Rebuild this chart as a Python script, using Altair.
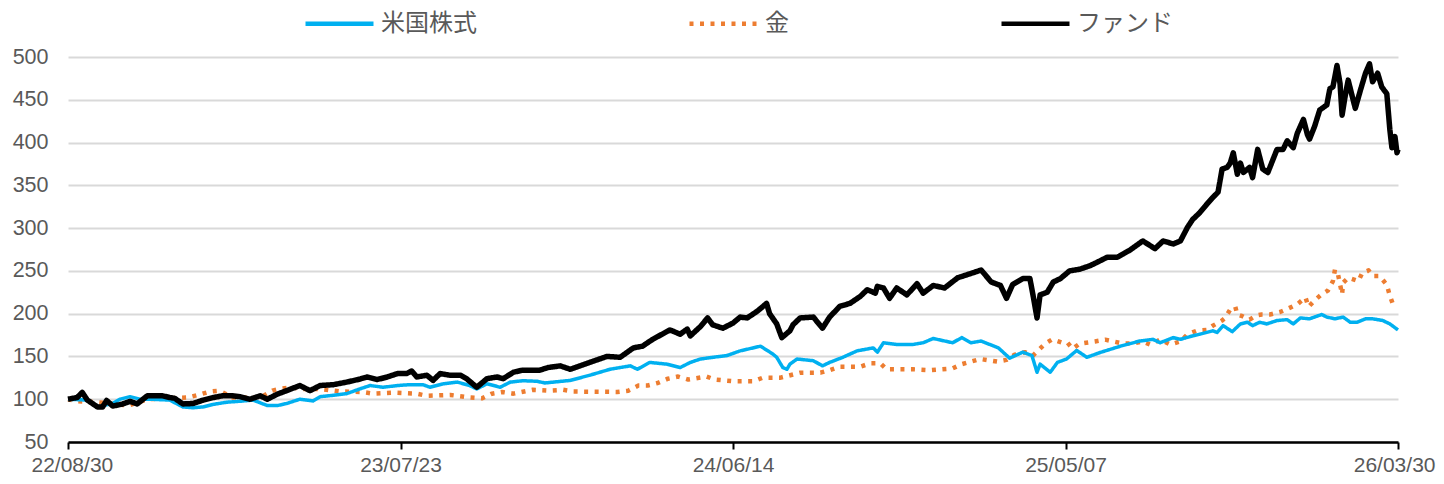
import altair as alt
import pandas as pd

# ---------------- data ----------------
series_names = ["米国株式", "金", "ファンド"]
start_date = "2022-08-30"
end_date = "2026-03-30"
x_tick_dates = ["2022-08-30", "2023-07-23", "2024-06-14", "2025-05-07", "2026-03-30"]
y_tick_values = [50, 100, 150, 200, 250, 300, 350, 400, 450, 500]

# days elapsed since start_date, and index values (start = 100)
us_days = [0, 19, 29, 44, 51, 61, 71, 81, 100, 113, 123, 133, 143, 156, 169, 182, 196, 206, 215, 228,
           241, 248, 261, 274, 287, 297, 310, 324, 336, 349, 356, 369, 383, 395, 402, 412, 425, 435, 447, 461,
           469, 494, 513, 523, 533, 553, 560, 572, 589, 602, 612, 622, 638, 648, 661, 681, 693, 697, 703, 707,
           710, 717, 733, 742, 749, 762, 776, 792, 796, 802, 815, 831, 841, 851, 870, 879, 888, 898, 915, 926,
           939, 948, 953, 956, 966, 973, 982, 992, 1002, 1015, 1035, 1054, 1067, 1074, 1087, 1094, 1106, 1113,
           1126, 1130, 1136, 1145, 1153, 1160, 1165, 1172, 1179, 1189, 1199, 1205, 1212, 1221, 1233, 1238, 1246,
           1254, 1261, 1268, 1276, 1283, 1293, 1300, 1308]
us_values = [100, 99, 91, 95, 100, 103, 100, 100, 99, 91, 90, 91, 94, 96.5, 97.6, 99, 92.6, 92.6, 95, 100,
             98, 103, 104.6, 106.5, 112, 116, 114, 116, 117, 117, 114, 118, 120, 116, 112, 118, 114, 120, 121.6, 121,
             119, 122, 128, 131.5, 135, 139, 135, 143, 141, 137, 143, 147, 149.6, 151, 156.5, 162, 153, 149, 137, 135,
             141, 147, 145, 139, 143, 149, 156.5, 160, 155, 166, 164, 164, 166, 171, 166, 172, 166, 168, 160, 148,
             155, 151, 131.5, 141, 131.5, 143, 147, 157, 149, 154.6, 162, 168, 170, 166, 172, 170, 174, 176,
             180, 178, 186, 179, 188, 190, 186, 190, 188, 192, 193, 188, 195, 194, 199, 196, 194,
             196, 190, 190, 194, 194, 192, 188, 181]

gold_days = [0, 10, 29, 59, 79, 118, 128, 140, 149, 162, 189, 201, 208, 221, 228, 248, 268, 289, 300, 322,
             343, 353, 376, 395, 407, 417, 427, 438, 457, 472, 487, 497, 540, 551, 561, 570, 580, 590, 600, 610,
             628, 636, 654, 674, 683, 690, 700, 720, 740, 749, 759, 779, 789, 799, 805, 831, 848, 870, 879, 897,
             914, 923, 931, 941, 949, 961, 968, 978, 983, 988, 995, 1010, 1020, 1028, 1038, 1047, 1057, 1064, 1074,
             1084, 1094, 1101, 1110, 1120, 1126, 1135, 1138, 1143, 1148, 1150, 1155, 1162, 1169, 1174, 1182, 1192,
             1200, 1209, 1217, 1220, 1226, 1233, 1239, 1244, 1246, 1249, 1253, 1254, 1259, 1264, 1269, 1273, 1279,
             1283, 1290, 1297, 1300, 1303, 1307]
gold_values = [100, 97.6, 96.5, 92.6, 100, 102, 105, 109, 110, 102, 102, 110, 112, 114, 112, 112, 109, 108.5, 106.5, 107.7,
               106.5, 104, 105, 102, 101, 106.5, 108.5, 106.5, 111, 110, 111, 109, 108.5, 110, 116, 116, 119, 124, 126.5, 123,
               126.5, 123, 121, 121, 125, 125, 125, 131, 131, 134, 138, 138, 142, 142, 135, 135, 134, 136, 141, 147,
               144, 146, 152, 155, 151, 165, 170, 166, 166, 159, 165, 167.5, 169.6, 167.5, 165, 165, 167.5, 164, 169.6,
               164, 167.5, 176, 180, 181, 186, 192, 195, 205, 208, 199, 197, 193, 198, 199, 199, 202,
               206, 211, 219, 208, 215.5, 222.7, 227, 238, 251.5, 246, 222.7, 236, 242, 240, 238, 248, 250.6,
               244, 244, 233.6, 221, 211, 208]

fund_days = [0, 9, 14, 19, 29, 34, 38, 44, 54, 61, 68, 78, 88, 93, 100, 105, 113, 123, 133, 143,
             152, 162, 169, 179, 189, 196, 206, 215, 228, 238, 248, 261, 274, 287, 294, 304, 314, 324, 333, 338,
             343, 353, 359, 366, 376, 386, 392, 402, 412, 422, 428, 438, 447, 464, 472, 484, 494, 513, 530, 543,
             556, 565, 575, 592, 602, 609, 612, 622, 629, 634, 644, 654, 661, 668, 678, 687, 690, 697, 702, 706,
             710, 713, 720, 733, 742, 749, 759, 769, 779, 786, 794, 796, 802, 808, 815, 825, 835, 841, 851, 862,
             875, 888, 898, 908, 917, 923, 929, 939, 946, 949, 953, 956, 963, 969, 976, 985, 995, 1005, 1012, 1022,
             1032, 1038, 1044, 1057, 1069, 1077, 1087, 1094, 1101, 1106, 1113, 1120, 1126, 1131, 1135, 1140, 1143,
             1146, 1150, 1153, 1156, 1162, 1165, 1170, 1175, 1180, 1189, 1195, 1199, 1205, 1209, 1215, 1219, 1221,
             1226, 1231, 1238, 1241, 1244, 1248, 1251, 1253, 1256, 1259, 1263, 1266, 1271, 1276, 1280, 1283, 1288,
             1292, 1297, 1300, 1302, 1305, 1307, 1308]
fund_values = [100, 102, 108, 99, 91, 91, 98.5, 92, 94.5, 97.6, 94.5, 104, 104, 104, 102, 101, 94.5, 95, 99, 102,
               104, 104, 103, 100, 104, 100, 106, 110, 116, 110, 116, 117, 120, 123.5, 126, 123, 126, 130, 130, 133,
               126, 128, 122, 130, 128, 128, 124, 114, 124, 126, 124, 131.5, 134, 134, 137, 139, 135, 143, 150, 149,
               160, 162, 170, 181, 176, 182, 174, 185, 195, 187, 183, 189, 196, 195, 203, 212, 200, 188, 172, 176,
               180, 187, 195, 196, 183, 196, 208.5, 212, 220, 228, 224, 232, 230, 218, 230, 222, 235, 224, 233, 230,
               242, 247, 251, 237, 233, 218, 234, 241, 241, 222, 195, 222, 225, 237, 241, 250, 252, 256, 260, 266,
               266, 270, 274, 285, 276, 285, 281.5, 285, 301, 310, 318, 328, 336, 342, 369, 371, 376,
               388, 363, 376, 365, 371, 359, 392, 369, 365, 392, 392, 402, 394, 411, 427, 409, 404,
               419, 438, 444, 463, 465, 490, 469, 432, 454, 473, 454, 440, 461, 481, 492, 471, 481,
               465, 457, 415, 394, 407, 388, 392]

# ---------------- table ----------------
base_date = pd.Timestamp(start_date)
frames = []
for name, days, vals in zip(series_names,
                            [us_days, gold_days, fund_days],
                            [us_values, gold_values, fund_values]):
    frames.append(pd.DataFrame({
        "date": base_date + pd.to_timedelta(days, unit="D"),
        "value": vals,
        "series": name,
    }))
df = pd.concat(frames, ignore_index=True)


def to_dt(s):
    y, m, d = (int(p) for p in s.split("-"))
    return alt.DateTime(year=y, month=m, date=d)


# ---------------- styles ----------------
series_colors = ["#00B0F0", "#ED7D31", "#000000"]
series_dashes = [[1, 0], [4, 6.5], [1, 0]]
series_widths = {"米国株式": 3.5, "金": 4.5, "ファンド": 5.5}
draw_order = ["金", "米国株式", "ファンド"]
text_grey = "#595959"

legend = alt.Legend(
    title=None, orient="none", legendX=235, legendY=-70, direction="horizontal",
    symbolType="stroke", symbolSize=4624, symbolStrokeWidth=4.5,
    labelFontSize=24, labelFont="Liberation Sans, Noto Sans CJK JP", labelColor=text_grey,
    labelOffset=5, columnPadding=203, labelLimit=400, padding=0,
)

base = alt.Chart(df).encode(
    x=alt.X(
        "date:T", title=None,
        scale=alt.Scale(domain=[to_dt(start_date), to_dt(end_date)]),
        axis=alt.Axis(
            values=[to_dt(s) for s in x_tick_dates], format="%y/%m/%d", grid=False,
            domainColor="#000000", domainWidth=2.5, tickColor="#000000", tickWidth=2, tickSize=7,
            labelPadding=5.5, labelFontSize=21, labelFont="Liberation Sans", labelColor=text_grey,
            labelFlush=True, labelFlushOffset=37, labelOverlap=False, labelBound=False,
        ),
    ),
    y=alt.Y(
        "value:Q", title=None,
        scale=alt.Scale(domain=[50, 500], nice=False, zero=False),
        axis=alt.Axis(
            values=y_tick_values, domain=False, ticks=False, tickSize=0, labelPadding=20,
            labelFontSize=21.5, labelFont="Liberation Sans", labelColor=text_grey,
            grid=True, gridColor="#D9D9D9", gridWidth=2,
        ),
    ),
    color=alt.Color("series:N", scale=alt.Scale(domain=series_names, range=series_colors), legend=legend),
    strokeDash=alt.StrokeDash("series:N", scale=alt.Scale(domain=series_names, range=series_dashes), legend=legend),
)

layers = [
    base.transform_filter(alt.datum.series == name).mark_line(
        strokeWidth=series_widths[name], strokeJoin="round", strokeCap="butt"
    )
    for name in draw_order
]

chart = alt.layer(*layers).properties(
    width=1330, height=385,
    autosize=alt.AutoSizeParams(type="none"),
    padding={"left": 60, "top": 49, "right": 38, "bottom": 34},
).configure_view(stroke=None)

chart.save("out.html", embed_options={"renderer": "svg", "actions": False})
